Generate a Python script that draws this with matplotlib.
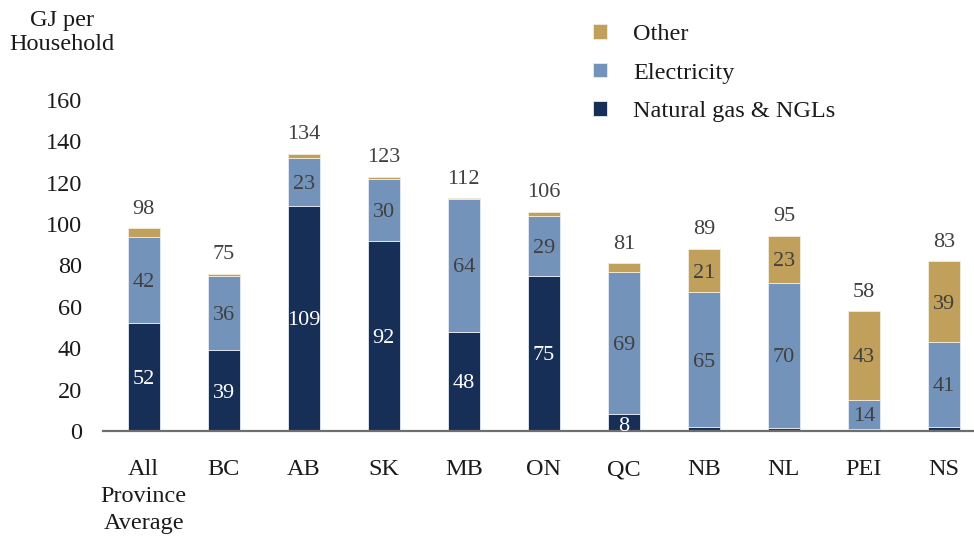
import numpy as np
import matplotlib.pyplot as plt

plt.rcParams['font.family'] = ['Liberation Serif', 'DejaVu Serif']

regions = ['All\nProvince\nAverage', 'BC', 'AB', 'SK', 'MB', 'ON', 'QC', 'NB', 'NL', 'PEI', 'NS']
gas = [52, 39, 109, 92, 48, 75, 8, 2, 1.5, 1, 2]
electricity = [42, 36, 23, 30, 64, 29, 69, 65, 70, 14, 41]
other = [4, 1, 2, 1, 0.5, 2, 4, 21, 23, 43, 39]
totals = [98, 75, 134, 123, 112, 106, 81, 89, 95, 58, 83]

c_gas = '#172f56'
c_elec = '#7493ba'
c_other = '#c0a05a'
txt_dark = '#404040'
txt_black = '#1a1a1a'

fig = plt.figure(figsize=(9.74, 5.42), dpi=100)
ax = fig.add_axes([0.1057, 0.2048, 0.8943, 0.6107])

x = np.arange(len(regions))
w = 0.4
gas = np.array(gas)
electricity = np.array(electricity)
other = np.array(other)

b1 = ax.bar(x, gas, w, color=c_gas, edgecolor='#e6ebf2', linewidth=0.6, label='Natural gas & NGLs')
b2 = ax.bar(x, electricity, w, bottom=gas, color=c_elec, edgecolor='#e6ebf2', linewidth=0.6, label='Electricity')
b3 = ax.bar(x, other, w, bottom=gas + electricity, color=c_other, edgecolor='#f2ecdc', linewidth=0.6, label='Other')

fs = 16
for i in range(len(x)):
    if gas[i] >= 5:
        yy = gas[i] / 2 if gas[i] > 15 else gas[i] / 2 - 0.8
        ax.text(x[i], yy, f'{gas[i]:g}', ha='center', va='center_baseline', color='white', fontsize=fs)
    if electricity[i] >= 5:
        ax.text(x[i], gas[i] + electricity[i] / 2, f'{electricity[i]:g}', ha='center',
                va='center_baseline', color=txt_dark, fontsize=fs)
    if other[i] >= 5:
        ax.text(x[i], gas[i] + electricity[i] + other[i] / 2, f'{other[i]:g}', ha='center',
                va='center_baseline', color=txt_dark, fontsize=fs)
    top = gas[i] + electricity[i] + other[i]
    ax.text(x[i], top + 7, str(totals[i]), ha='center', va='baseline', color=txt_dark, fontsize=fs)

ax.set_xlim(-0.51, len(x) - 1 + 0.375)
ax.set_ylim(0, 160)
ax.set_yticks(range(0, 161, 20))
ax.set_xticks(x)
ax.set_xticklabels(regions, fontsize=17.5, color=txt_black, linespacing=1.35, va='top')
ax.tick_params(axis='y', length=0, pad=15, labelsize=17.5, labelcolor=txt_black)
ax.tick_params(axis='x', length=0, pad=20.5)

for s in ['top', 'right', 'left']:
    ax.spines[s].set_visible(False)
ax.spines['bottom'].set_color('#6e6e6e')
ax.spines['bottom'].set_linewidth(1.6)

fig.text(0.064, 0.94, 'GJ per\nHousehold', ha='center', va='center', fontsize=17.5,
         color=txt_black, linespacing=1.23)

handles = [b3, b2, b1]
labels = ['Other', 'Electricity', 'Natural gas & NGLs']
leg = fig.legend(handles, labels, loc='center left', bbox_to_anchor=(0.609, 0.865), frameon=False,
                 fontsize=17.5, handlelength=0.55, handleheight=0.55, handletextpad=1.1,
                 labelspacing=0.73, borderpad=0, borderaxespad=0)
for t in leg.get_texts():
    t.set_color(txt_black)

fig.savefig('out.png', dpi=100)
